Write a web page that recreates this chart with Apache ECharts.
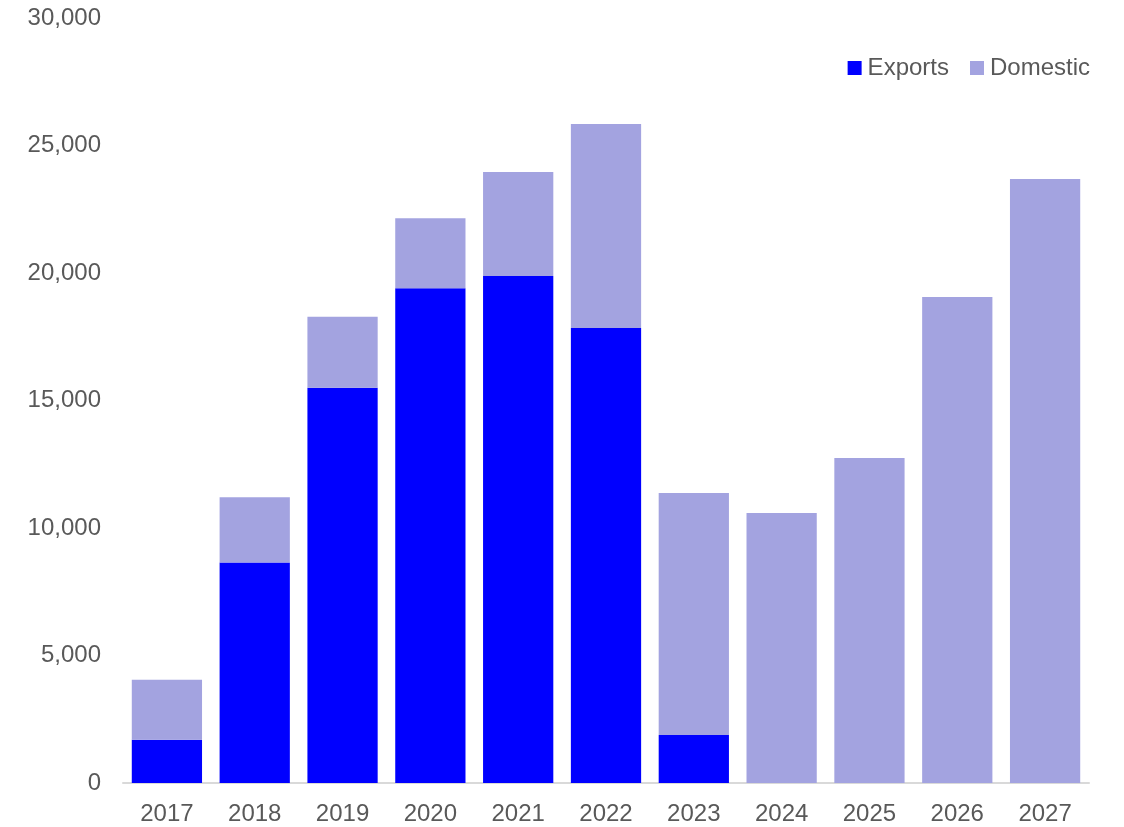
<!DOCTYPE html>
<html>
<head>
<meta charset="utf-8">
<script src="https://cdn.jsdelivr.net/npm/echarts@6/dist/echarts.min.js"></script>
<style>
  html, body { margin: 0; padding: 0; background: #fff; }
  #chart { width: 1124px; height: 827px; }
</style>
</head>
<body>
<div id="chart"></div>
<script>
// Years on the category axis
const years = ['2017', '2018', '2019', '2020', '2021', '2022', '2023', '2024', '2025', '2026', '2027'];
// Export volumes (bottom segment)
const exportsVals = [1700, 8650, 15500, 19400, 19880, 17840, 1880, 0, 0, 0, 0];
// Domestic volumes (stacked on top of exports)
const domesticVals = [2350, 2560, 2780, 2750, 4080, 8000, 9490, 10590, 12750, 19060, 23690];

const chart = echarts.init(document.getElementById('chart'));
const fontFamily = 'Liberation Sans, Arial, sans-serif';

chart.setOption({
  animation: false,
  textStyle: { fontFamily: fontFamily },
  legend: {
    top: 51,
    right: 29,
    itemWidth: 14,
    itemHeight: 14,
    itemGap: 21,
    icon: 'rect',
    textStyle: { fontSize: 24, color: '#595959', fontFamily: fontFamily, padding: [0, 0, 0, 1] },
    data: ['Exports', 'Domestic']
  },
  grid: { left: 123, right: 35, top: 18, bottom: 44, containLabel: false },
  xAxis: {
    type: 'category',
    data: years,
    axisLine: { lineStyle: { color: '#d9d9d9', width: 2 } },
    axisTick: { show: false },
    axisLabel: { fontSize: 24, color: '#595959', margin: 19, fontFamily: fontFamily }
  },
  yAxis: {
    type: 'value',
    min: 0,
    max: 30000,
    interval: 5000,
    axisLine: { show: false },
    axisTick: { show: false },
    splitLine: { show: false },
    axisLabel: {
      fontSize: 24,
      color: '#595959',
      margin: 22,
      fontFamily: fontFamily,
      formatter: v => v.toLocaleString('en-US')
    }
  },
  series: [
    {
      name: 'Exports',
      type: 'bar',
      stack: 'total',
      barCategoryGap: '20%',
      itemStyle: { color: '#0000ff' },
      data: exportsVals
    },
    {
      name: 'Domestic',
      type: 'bar',
      stack: 'total',
      barCategoryGap: '20%',
      itemStyle: { color: '#a3a3e0' },
      data: domesticVals
    }
  ]
});
</script>
</body>
</html>
